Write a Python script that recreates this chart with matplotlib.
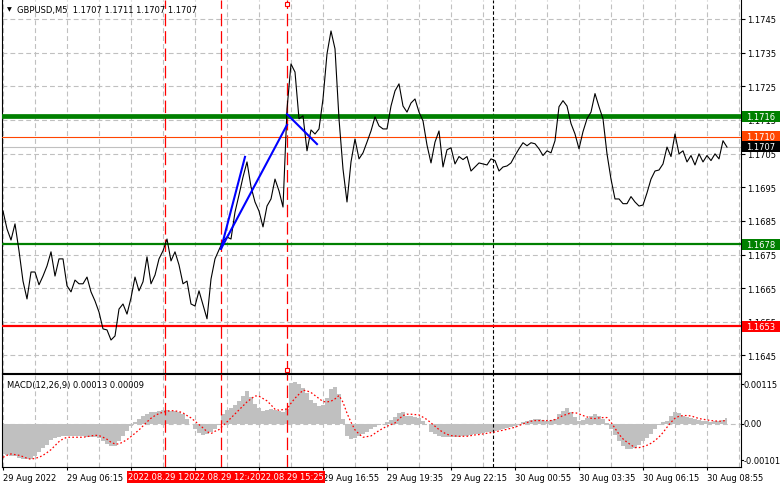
import numpy as np
import pandas as pd
import matplotlib

matplotlib.use("Agg")
import matplotlib.pyplot as plt
import matplotlib.transforms as mtransforms
from matplotlib.patches import Rectangle

plt.rcParams["font.family"] = "DejaVu Sans"
plt.rcParams["font.size"] = 6
plt.rcParams["lines.scale_dashes"] = False

# GBPUSD M5, one close read every 2 bars (10 min) starting 29 Aug 03:35
start = pd.Timestamp("2022-08-29 03:35")
bar_len = pd.Timedelta(minutes=5)
step = 2

close = [
    1.16879, 1.16826, 1.16793, 1.16841, 1.16761, 1.16671, 1.16618, 1.16698, 1.16698, 1.16660,
    1.16686, 1.16716, 1.16758, 1.16686, 1.16737, 1.16737, 1.16657, 1.16639, 1.16674, 1.16663,
    1.16663, 1.16683, 1.16639, 1.16612, 1.16579, 1.16529, 1.16526, 1.16496, 1.16508, 1.16588,
    1.16603, 1.16573, 1.16621, 1.16683, 1.16642, 1.16669, 1.16743, 1.16663, 1.16689, 1.16737,
    1.16761, 1.16796, 1.16731, 1.16758, 1.16719, 1.16663, 1.16671, 1.16603, 1.16597, 1.16642,
    1.16600, 1.16559, 1.16677, 1.16737, 1.16764, 1.16790, 1.16802, 1.16796, 1.16876, 1.16927,
    1.16980, 1.17025, 1.16951, 1.16906, 1.16879, 1.16832, 1.16894, 1.16915, 1.16974, 1.16939,
    1.16891, 1.17182, 1.17316, 1.17292, 1.17153, 1.17162, 1.17058, 1.17120, 1.17108, 1.17123,
    1.17212, 1.17346, 1.17414, 1.17361, 1.17153, 1.17004, 1.16906, 1.17025, 1.17093, 1.17034,
    1.17052, 1.17084, 1.17117, 1.17159, 1.17132, 1.17123, 1.17123, 1.17191, 1.17236, 1.17257,
    1.17191, 1.17173, 1.17200, 1.17212, 1.17173, 1.17147, 1.17075, 1.17022, 1.17084, 1.17117,
    1.17010, 1.17061, 1.17067, 1.17019, 1.17041, 1.17032, 1.17041, 1.16998, 1.17010, 1.17022,
    1.17019, 1.17016, 1.17034, 1.17029, 1.16998, 1.17010, 1.17013, 1.17022, 1.17044, 1.17064,
    1.17082, 1.17073, 1.17082, 1.17079, 1.17064, 1.17044, 1.17058, 1.17052, 1.17088, 1.17189,
    1.17207, 1.17191, 1.17139, 1.17108, 1.17064, 1.17115, 1.17153, 1.17173, 1.17228, 1.17189,
    1.17153, 1.17049, 1.16974, 1.16915, 1.16915, 1.16901, 1.16901, 1.16922, 1.16906, 1.16894,
    1.16897, 1.16933, 1.16974, 1.16998, 1.17001, 1.17019, 1.17069, 1.17041, 1.17108, 1.17049,
    1.17058, 1.17025, 1.17044, 1.17016, 1.17049, 1.17025, 1.17044, 1.17029, 1.17049, 1.17034,
    1.17088, 1.17069,
]

# MACD main and signal, in units of 0.00001
macd_hist = [
    -70.4, -72.0, -74.3, -75.9, -79.0, -82.2, -82.2, -82.2, -75.9, -66.5,
    -57.1, -49.3, -36.8, -32.9, -30.5, -27.4, -27.4, -27.4, -28.2, -29.0,
    -29.0, -29.7, -29.7, -30.5, -32.1, -39.1, -46.2, -52.4, -50.9, -39.1,
    -27.4, -15.7, -5.5, 3.9, 11.7, 19.6, 23.5, 27.4, 29.0, 31.3,
    32.1, 33.6, 31.3, 29.7, 27.4, 23.5, 11.7, 0.0, -11.7, -21.1,
    -25.8, -24.3, -19.6, -11.7, 0.5, 23.5, 33.6, 37.6, 44.6, 54.8,
    66.5, 78.3, 62.6, 47.0, 36.8, 31.3, 33.6, 35.2, 33.6, 30.5,
    27.4, 35.2, 96.2, 99.4, 93.9, 83.7, 72.8, 57.1, 49.3, 41.5,
    44.6, 60.3, 82.2, 86.1, 70.4, 11.7, -27.4, -35.2, -33.6, -29.0,
    -23.5, -18.0, -11.7, -6.3, -2.3, 0.2, 3.9, 9.4, 15.7, 25.8,
    27.4, 19.6, 18.0, 15.7, 13.3, 7.8, -0.5, -18.0, -24.3, -27.4,
    -29.7, -31.3, -31.3, -31.3, -30.5, -29.0, -27.4, -25.8, -24.3, -22.7,
    -21.1, -19.6, -18.0, -16.4, -14.9, -12.5, -10.2, -7.8, -4.7, 0.3,
    5.5, 7.8, 10.2, 11.7, 11.0, 8.6, 7.8, 9.4, 11.7, 23.5,
    31.3, 36.8, 27.4, 15.7, 7.8, 10.2, 13.3, 18.0, 23.5, 19.6,
    11.7, 2.3, -11.7, -25.8, -39.1, -50.9, -58.7, -58.7, -55.6, -49.3,
    -39.1, -33.6, -23.5, -11.7, -2.3, 3.9, 7.8, 18.0, 27.4, 25.8,
    19.6, 17.2, 14.9, 11.7, 8.6, 7.0, 6.3, 5.5, 6.3, 7.8,
    10.2, 13.3,
]
macd_signal = [
    -78.3, -73.6, -70.4, -72.0, -73.6, -76.7, -80.6, -82.9, -80.6, -78.3,
    -73.6, -67.3, -60.3, -50.9, -41.5, -35.2, -31.3, -31.3, -31.3, -31.3,
    -31.3, -29.7, -28.2, -26.6, -27.4, -31.3, -36.0, -43.0, -47.0, -47.0,
    -42.3, -36.8, -29.7, -21.9, -14.1, -4.7, 4.7, 13.3, 19.6, 24.3,
    27.4, 29.7, 31.3, 30.5, 29.0, 25.8, 19.6, 14.1, 6.3, -1.6,
    -9.4, -18.0, -22.7, -17.2, -13.3, -3.9, 4.7, 14.1, 23.5, 32.9,
    42.3, 51.6, 58.7, 65.7, 64.9, 59.5, 54.0, 44.6, 34.4, 32.1,
    33.6, 35.2, 48.5, 60.3, 69.6, 79.0, 77.5, 73.6, 66.5, 59.5,
    52.4, 51.6, 53.2, 58.7, 66.5, 50.9, 25.0, 3.9, -14.1, -23.5,
    -31.3, -29.7, -28.2, -21.9, -15.7, -10.2, -5.5, -1.6, 2.3, 11.7,
    19.6, 22.7, 22.7, 21.9, 21.1, 15.7, 10.2, 2.3, -5.5, -13.3,
    -19.6, -24.3, -27.4, -28.2, -29.0, -29.0, -29.0, -27.4, -25.8, -25.0,
    -23.5, -21.9, -20.3, -18.8, -16.4, -14.9, -12.5, -10.2, -7.8, -3.9,
    0.0, 3.1, 6.3, 7.8, 7.8, 7.8, 7.8, 7.8, 10.2, 14.9,
    19.6, 22.7, 25.8, 26.6, 23.5, 19.6, 16.4, 13.3, 12.5, 14.1,
    14.9, 14.9, 3.9, -10.2, -24.3, -35.2, -43.0, -49.3, -55.6, -55.6,
    -53.2, -50.1, -45.4, -39.1, -30.5, -20.3, -7.8, 3.9, 13.3, 18.0,
    19.6, 19.6, 18.8, 15.7, 12.5, 11.0, 9.4, 7.8, 7.0, 6.3,
    7.0, 8.6,
]

time_labels = [
    "29 Aug 2022", "29 Aug 06:15", "29 Aug 08:55", "29 Aug 11:35",
    "29 Aug 14:15", "29 Aug 16:55", "29 Aug 19:35", "29 Aug 22:15",
    "30 Aug 00:55", "30 Aug 03:35", "30 Aug 06:15", "30 Aug 08:55",
]
price_ticks = [1.1645, 1.1655, 1.1665, 1.1675, 1.1685, 1.1695, 1.1705, 1.1715, 1.1725, 1.1735, 1.1745]

# horizontal levels: value, label, line colour, line width
levels = [
    (1.1716, "1.1716", "#008000", 3.4),
    (1.1678, "1.1678", "#008000", 1.6),
    (1.16537, "1.1653", "#ff0000", 1.6),
    (1.1710, "1.1710", "#ff4500", 0.8),
]
bid = 1.1707
vlines = ["2022-08-29 10:20", "2022-08-29 12:40", "2022-08-29 15:25"]
day_sep = "2022-08-30 00:00"
trend_lines = [
    (("2022-08-29 12:40", 1.16767), ("2022-08-29 13:40", 1.17040)),
    (("2022-08-29 12:40", 1.16767), ("2022-08-29 15:25", 1.17135)),
    (("2022-08-29 15:25", 1.17167), ("2022-08-29 16:40", 1.17078)),
]


def bar_of(ts):
    return (pd.Timestamp(ts) - start) / bar_len


x = np.arange(len(close)) * step
hist = np.array(macd_hist) * 1e-5
signal = np.array(macd_signal) * 1e-5

W, H = 781, 489
fig = plt.figure(figsize=(W / 100, H / 100), dpi=100)
ax = fig.add_axes([2 / W, 1 - 374 / H, 739 / W, 373 / H])
axm = fig.add_axes([2 / W, 1 - 468 / H, 739 / W, 93 / H])

grid_kw = dict(color="#c0c0c0", lw=0.8, ls=(0, (3.5, 2.2)))

for a in (ax, axm):
    a.set_xlim(-0.5, 369)
    a.set_xticks(np.arange(0, 369, 32))
    a.set_xticks(np.arange(16, 369, 32), minor=True)
    a.grid(which="both", axis="x", zorder=0, **grid_kw)
    a.set_axisbelow(True)
    for s in a.spines.values():
        s.set_linewidth(0.8)
    for t in vlines:
        a.axvline(bar_of(t), color="red", lw=0.9, ls=(0, (9, 3.5)), zorder=3)
    a.axvline(bar_of(day_sep), color="black", lw=0.8, ls=(0, (2.5, 1.6)), zorder=3)

# ---- price panel
ylo, yhi = 1.16398, 1.17506
ax.set_ylim(ylo, yhi)
ax.spines["top"].set_visible(False)
ax.yaxis.tick_right()
ax.set_yticks(price_ticks)
ax.set_yticklabels(["%.4f" % p for p in price_ticks])
ax.grid(which="major", axis="y", zorder=0, **grid_kw)
ax.tick_params(axis="x", which="both", length=0, labelbottom=False)
ax.tick_params(axis="y", length=3, width=0.8, pad=1.5, labelsize=6)

ax.axhline(bid, color="#c0c0c0", lw=0.8, zorder=2)
for val, lab, col, lw in levels:
    ax.axhline(val, color=col, lw=lw, zorder=4)

ax.plot(x, close, color="black", lw=0.8, zorder=5)

for (t0, p0), (t1, p1) in trend_lines:
    ax.plot([bar_of(t0), bar_of(t1)], [p0, p1], color="#0000ff", lw=1.5, zorder=6)

# selected line anchors
sel = bar_of(vlines[-1])
tr = mtransforms.blended_transform_factory(ax.transData, ax.transAxes)
ax.plot([sel, sel], [0.989, 0.008], ls="none", marker="s", ms=3.2, mfc="white",
        mec="red", mew=0.8, transform=tr, clip_on=False, zorder=7)

# price boxes on the right scale
trb = mtransforms.blended_transform_factory(ax.transAxes, ax.transData)
box_h = 11 / 373 * (yhi - ylo)
boxes = [(val, lab, col) for val, lab, col, lw in levels] + [(bid, "1.1707", "black")]
for val, lab, col in boxes:
    ax.add_patch(Rectangle((1 + 1 / 739, val - box_h / 2), 38 / 739, box_h, transform=trb,
                           facecolor=col, edgecolor="none", clip_on=False, zorder=8))
    ax.text(1 + 5 / 739, val, lab, transform=trb, color="white", fontsize=6,
            va="center", ha="left", clip_on=False, zorder=9)

fig.text(7 / W, 1 - 10 / H, "\u25bc", fontsize=4.5, va="center", ha="left")
fig.text(17 / W, 1 - 10 / H, "GBPUSD,M5  1.1707 1.1711 1.1707 1.1707", fontsize=6,
         va="center", ha="left")

# ---- MACD panel
axm.set_ylim(-0.00101, 0.00117)
axm.axhline(0, zorder=1, **grid_kw)
axm.fill_between(x, 0, hist, step="mid", color="#c0c0c0", lw=0, zorder=2)
axm.plot(x, signal, color="red", lw=0.9, ls=(0, (1.2, 1.6)), zorder=4)
axm.set_yticks([])
axm.set_xticklabels(time_labels, ha="left")
axm.tick_params(axis="x", which="major", length=2.5, width=0.8, pad=1.5, labelsize=6)
axm.tick_params(axis="x", which="minor", length=0)

# MT4 puts the range labels a little inside the panel edges
trm = mtransforms.blended_transform_factory(axm.transAxes, axm.transAxes)
for frac, lab in [(0.892, "0.00115"), (0.075, "-0.00101")]:
    axm.plot([1, 1 + 2 / 739], [frac, frac], color="black", lw=0.8, transform=trm, clip_on=False)
    axm.text(1 + 2.5 / 739, frac, lab, transform=trm, fontsize=6, va="center", ha="left")
trz = mtransforms.blended_transform_factory(axm.transAxes, axm.transData)
axm.plot([1, 1 + 2 / 739], [0, 0], color="black", lw=0.8, transform=trz, clip_on=False)
axm.text(1 + 2.5 / 739, 0, "0.00", transform=trz, fontsize=6, va="center", ha="left")

axm.text(5 / 739, 0.892, "MACD(12,26,9) 0.00013 0.00009", transform=axm.transAxes,
         fontsize=6, va="center", ha="left")

# red time labels of the vertical lines (each one drawn over the previous)
trt = mtransforms.blended_transform_factory(axm.transData, axm.transAxes)
for t in vlines:
    axm.text(bar_of(t), -0.105, pd.Timestamp(t).strftime("%Y.%m.%d %H:%M"), transform=trt,
             color="white", fontsize=6, ha="center", va="center", clip_on=False, zorder=10,
             bbox=dict(boxstyle="square,pad=0.15", fc="red", ec="none"))

fig.savefig("out.png", dpi=100)
